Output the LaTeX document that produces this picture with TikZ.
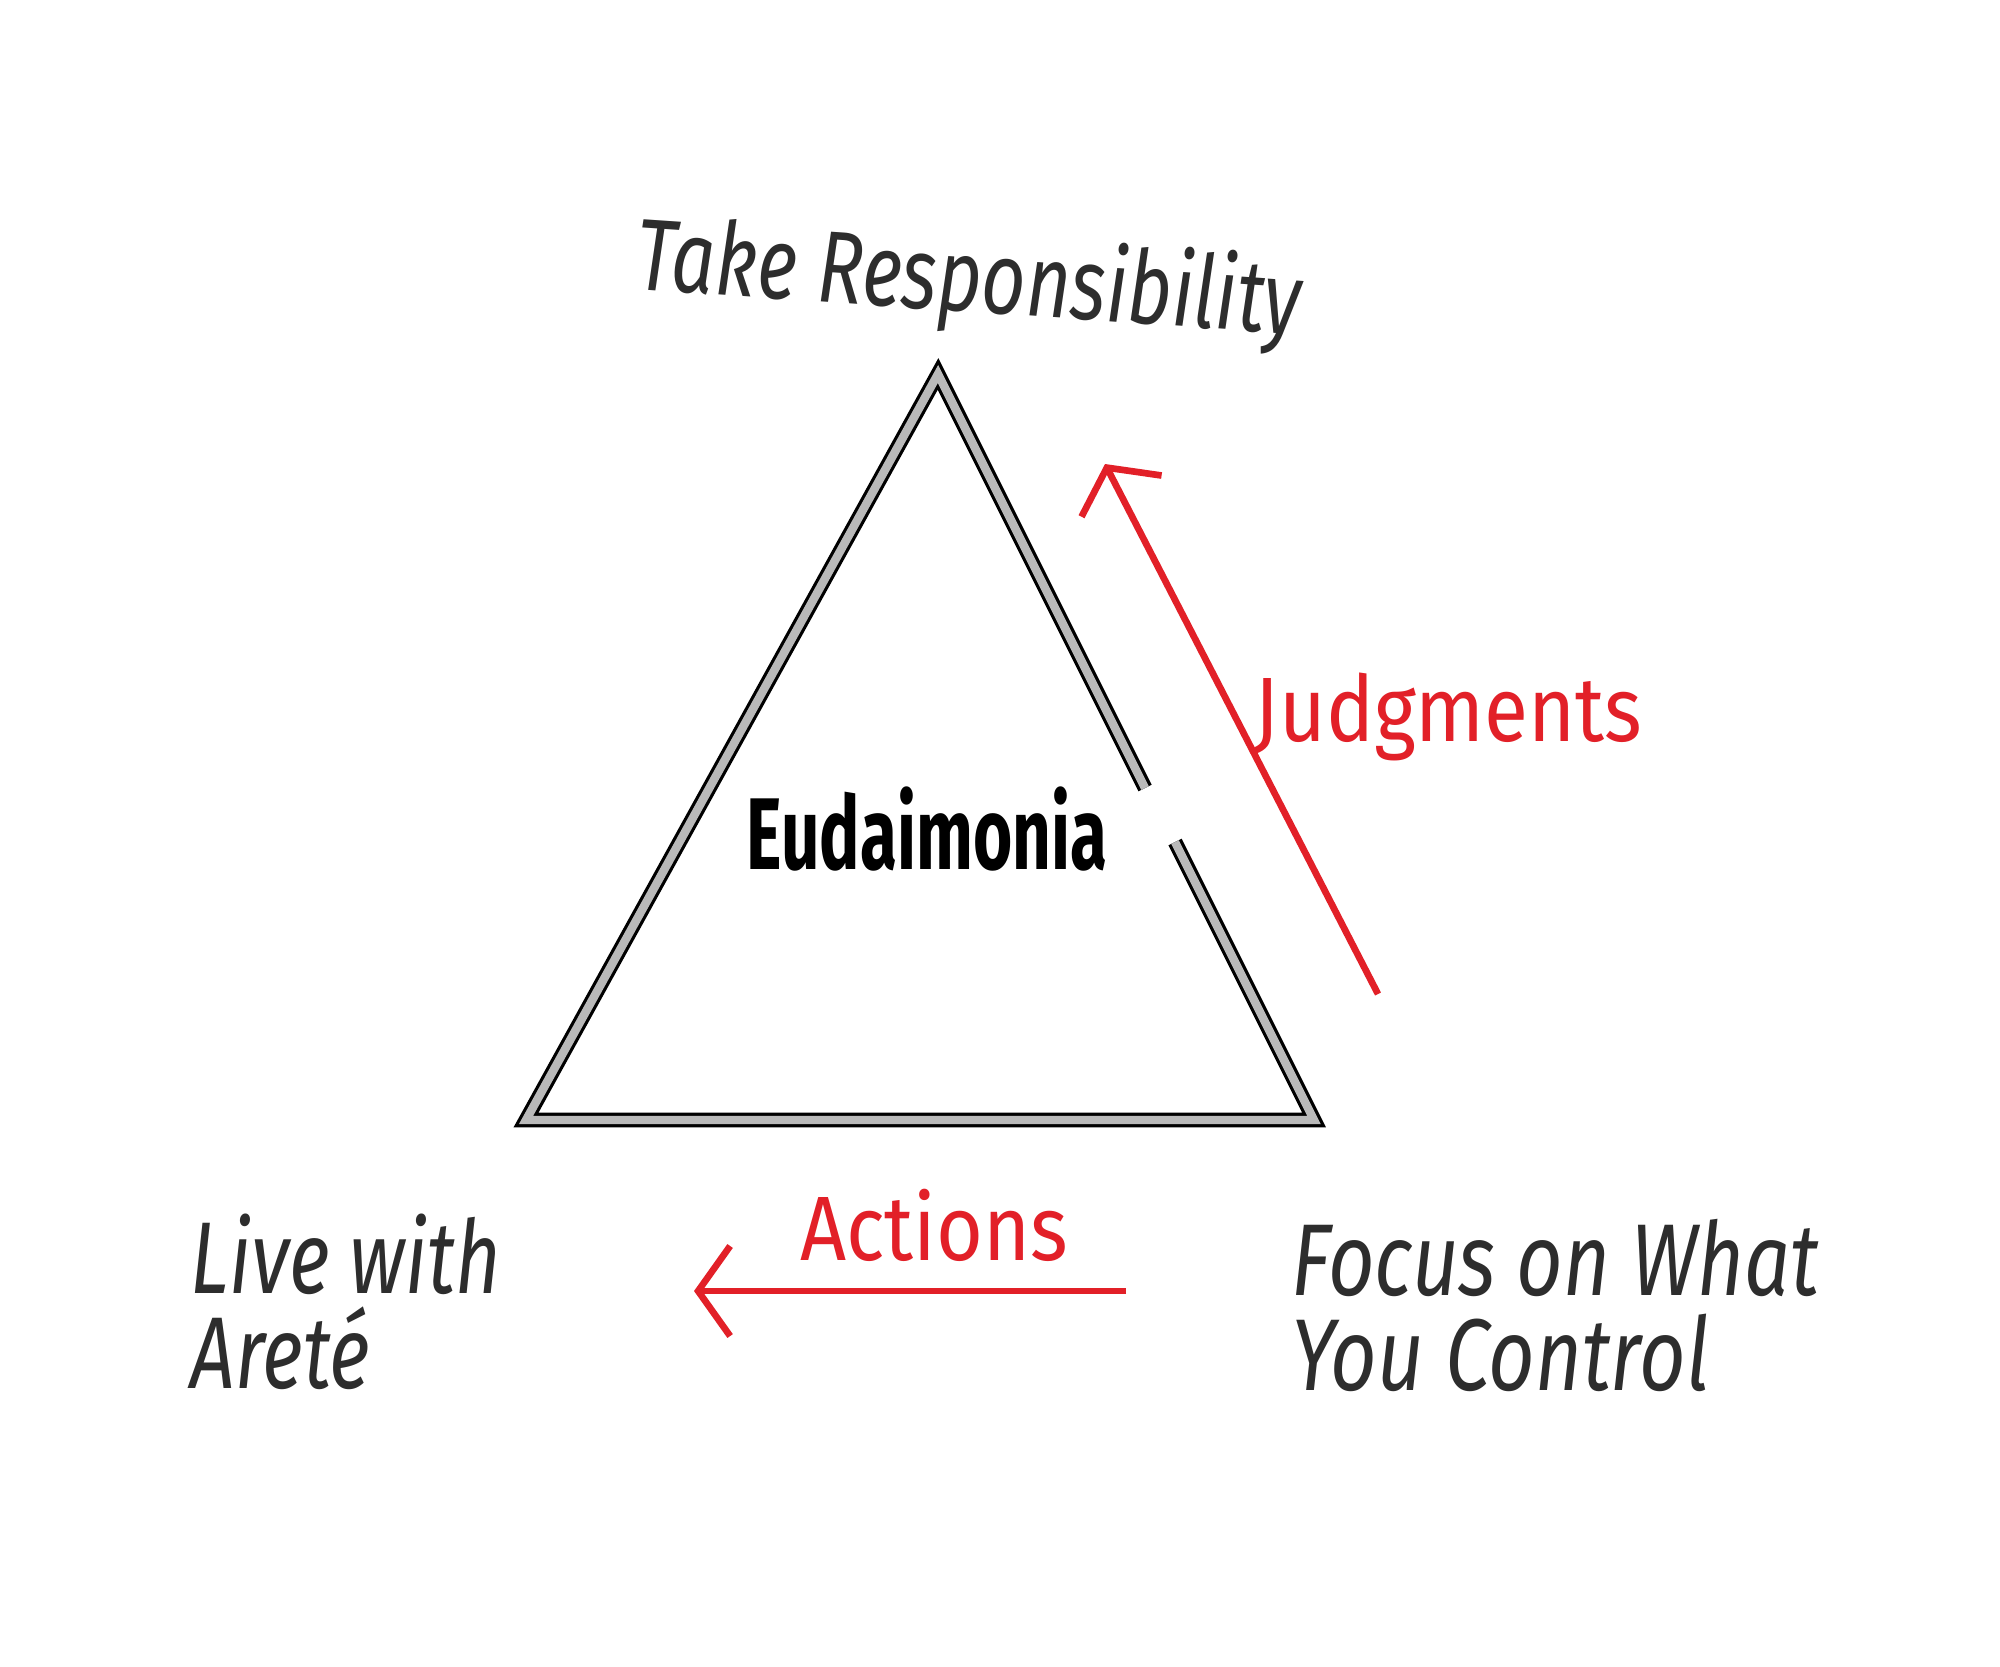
\documentclass[tikz,border=0pt]{standalone}
\usepackage{fontspec}
\setmainfont{Fira Sans}
\usetikzlibrary{arrows.meta}
\definecolor{penred}{RGB}{226,32,40}
\definecolor{pencil}{RGB}{45,45,45}
\begin{document}
\begin{tikzpicture}
[x=0.01cm, y=-0.01cm,
corner/.style={font=\fontsize{29}{27}\selectfont\itshape, text=pencil, xscale=0.77, inner sep=0pt, align=left},
centre/.style={font=\fontsize{29}{34}\selectfont\bfseries, text=black, xscale=0.66, inner sep=0pt},
redtext/.style={font=\fontsize{26}{30}\selectfont, text=penred, xscale=0.88, inner sep=0pt},
edge/.style={draw=black, line width=0.9pt, double=gray!55, double distance=2.4pt, line join=miter},
move/.style={draw=penred, line width=1.9pt, -{Straight Barb[length=3.2mm, width=9mm, line width=1.9pt]}}]
\fill[white] (0,0) rectangle (2000,1666);

% TRIANGLE
\coordinate (top) at (938,374);
\coordinate (bl) at (526,1120);
\coordinate (br) at (1314,1120);
\coordinate (gapa) at (1145,788);
\coordinate (gapb) at (1175,842);
\draw [edge] (gapb) -- (br) -- (bl) -- (top) -- (gapa);

% LABELS
\node[corner, anchor=base, rotate=-3, xscale=0.98] (take) at (968,312) {Take Responsibility};
\node[centre, anchor=base] (eud) at (927,869) {Eudaimonia};
\node[corner, anchor=base west] (live) at (190,1388) {Live with\\Areté};
\node[corner, anchor=base west, xscale=1.03] (focus) at (1291,1390) {Focus on What\\You Control};
\node[redtext, anchor=base west] (judg) at (1254,741) {Judgments};
\node[redtext, anchor=base] (act) at (934,1260) {Actions};

% ARROWS
\coordinate (judgfrom) at (1378,994);
\coordinate (judgto) at (1105,464);
\coordinate (actfrom) at (1126,1291);
\coordinate (actto) at (694,1291);
\draw [move] (judgfrom) -- (judgto);
\draw [move] (actfrom) -- (actto);
\end{tikzpicture}
\end{document}
